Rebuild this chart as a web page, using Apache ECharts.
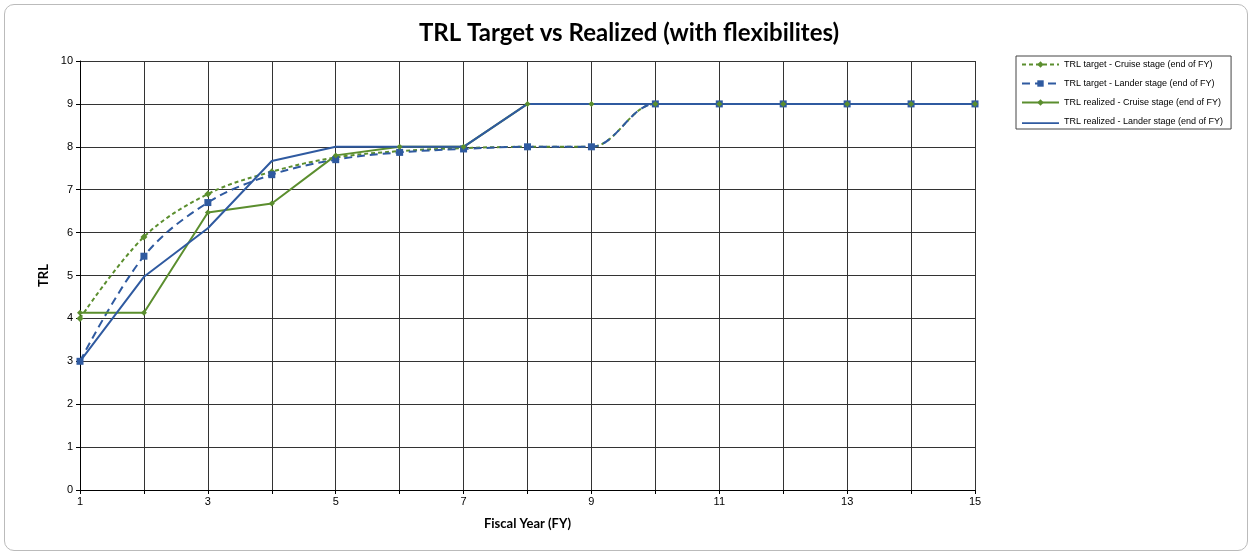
<!DOCTYPE html>
<html><head><meta charset="utf-8">
<script src="https://cdn.jsdelivr.net/npm/echarts@6/dist/echarts.min.js"></script>
<style>
html,body{margin:0;padding:0;background:#fff;}
#frame{position:absolute;left:4px;top:4px;width:1242px;height:545px;border:1px solid #bbb;border-radius:10px;}
#c{position:absolute;left:0;top:0;width:1252px;height:555px;}
</style></head>
<body><div id="frame"></div><div id="c"></div>
<script>
var fiscalYears = [1,2,3,4,5,6,7,8,9,10,11,12,13,14,15];
var targetCruise   = [4.0, 5.9, 6.9, 7.42, 7.75, 7.9, 7.97, 8.0, 8.0, 9, 9, 9, 9, 9, 9];
var targetLander   = [3.0, 5.45, 6.7, 7.35, 7.7, 7.87, 7.95, 8.0, 8.0, 9, 9, 9, 9, 9, 9];
var realizedCruise = [4.13, 4.13, 6.47, 6.68, 7.8, 8.0, 8.0, 9, 9, 9, 9, 9, 9, 9, 9];
var realizedLander = [3.0, 4.97, 6.1, 7.67, 8.0, 8.0, 8.0, 9, 9, 9, 9, 9, 9, 9, 9];
var seriesNames = ['TRL target - Cruise stage (end of FY)','TRL target - Lander stage (end of FY)','TRL realized - Cruise stage (end of FY)','TRL realized - Lander stage (end of FY)'];
var green = '#5b8e2e', blue = '#2f5aa0';
function pairs(vals){ return fiscalYears.map(function(x,i){return [x, vals[i]];}); }
var chart = echarts.init(document.getElementById('c'));
chart.setOption({
  animation:false,
  title:{text:'TRL Target vs Realized (with flexibilites)',left:624,textAlign:'center',top:16,
    textStyle:{fontFamily:'Lato',fontWeight:'bold',fontSize:24,color:'#000'}},
  grid:{left:80,right:277,top:61,bottom:65},
  legend:{orient:'vertical',left:1016,top:56,padding:[4,8,3,5],itemGap:10,itemWidth:37,itemHeight:8,
    borderColor:'#444',borderWidth:1,
    textStyle:{fontFamily:'Liberation Sans',fontSize:9,color:'#000'},
    data:[seriesNames[0],seriesNames[1],seriesNames[2],
      {name:seriesNames[3],icon:'path://M0,0M0,3.1H37V4.9H0Z'}]},
  xAxis:{type:'value',min:1,max:15,interval:1,name:'Fiscal Year (FY)',nameLocation:'middle',nameGap:27,
    nameTextStyle:{fontFamily:'Lato',fontWeight:'bold',fontSize:13,color:'#000'},
    axisLine:{lineStyle:{color:'#000'}},axisTick:{show:true,length:4,lineStyle:{color:'#000'}},
    axisLabel:{fontFamily:'Liberation Sans',fontSize:11,color:'#000',margin:6,
      formatter:function(v){return (v%2===1)?String(v):'';}},
    splitLine:{show:true,lineStyle:{color:'#333',width:1}}},
  yAxis:{type:'value',min:0,max:10,interval:1,name:'TRL',nameLocation:'middle',nameGap:28,nameRotate:90,
    nameTextStyle:{fontFamily:'Lato',fontWeight:'bold',fontSize:13,color:'#000'},
    axisLine:{show:true,lineStyle:{color:'#000'}},axisTick:{show:true,length:4,lineStyle:{color:'#000'}},
    axisLabel:{fontFamily:'Liberation Sans',fontSize:11,color:'#000',margin:7},
    splitLine:{show:true,lineStyle:{color:'#333',width:1}}},
  series:[
    {name:seriesNames[0],type:'line',data:pairs(targetCruise),smooth:0.35,symbol:'diamond',symbolSize:7,
      lineStyle:{color:green,width:2,type:[4,3]},itemStyle:{color:green}},
    {name:seriesNames[1],type:'line',data:pairs(targetLander),smooth:0.35,symbol:'rect',symbolSize:7,
      lineStyle:{color:blue,width:2,type:[8,5]},itemStyle:{color:blue}},
    {name:seriesNames[2],type:'line',data:pairs(realizedCruise),symbol:'diamond',symbolSize:6,
      lineStyle:{color:green,width:2},itemStyle:{color:green}},
    {name:seriesNames[3],type:'line',data:pairs(realizedLander),symbol:'none',
      lineStyle:{color:blue,width:2},itemStyle:{color:blue}}
  ]
});
</script></body></html>
